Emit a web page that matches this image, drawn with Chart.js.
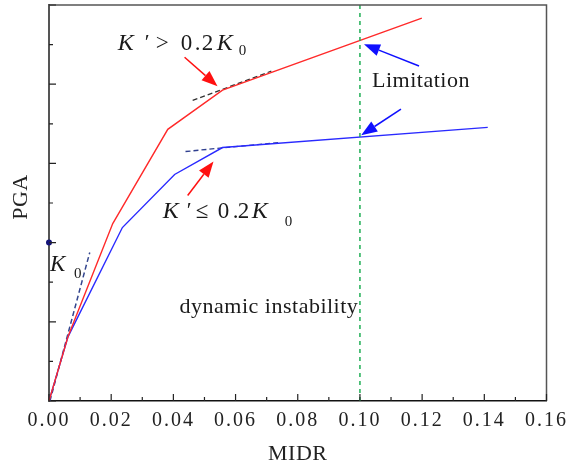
<!DOCTYPE html>
<html>
<head>
<meta charset="utf-8">
<script src="https://cdn.jsdelivr.net/npm/chart.js@4/dist/chart.umd.min.js"></script>
<style>
  html, body { margin: 0; padding: 0; background: #fff; }
  canvas { display: block; }
</style>
</head>
<body>
<canvas id="grafik" width="572" height="468"></canvas>
<script>
// ---------------------------------------------------------------
// Data kurva PGA - MIDR
// ---------------------------------------------------------------
const redX  = [0, 0.0061, 0.0205, 0.0382, 0.0558, 0.1199];
const redY  = [0, 1.62,   4.48,   6.86,   7.85,   9.67];
const blueX = [0, 0.0061, 0.0236, 0.0404, 0.0558, 0.1411];
const blueY = [0, 1.62,   4.38,   5.72,   6.40,   6.91];

// garis singgung putus-putus
const k0X        = [0.0003, 0.0131];
const k0Y        = [0, 3.75];
const redTanX    = [0.0462, 0.0715];
const redTanY    = [7.59, 8.33];
const blueTanX   = [0.0439, 0.0741];
const blueTanY   = [6.30, 6.53];
const limitX     = [0.10, 0.10];
const limitY     = [0, 10];
const dotX       = [0];
const dotY       = [4];

// tick sumbu
const xTickValues  = [0, 0.02, 0.04, 0.06, 0.08, 0.10, 0.12, 0.14, 0.16];
const xTickLabels  = ['0.00', '0.02', '0.04', '0.06', '0.08', '0.10', '0.12', '0.14', '0.16'];
const xMinorTicks  = [0.01, 0.03, 0.05, 0.07, 0.09, 0.11, 0.13, 0.15];
const yMajorTicks  = [0, 2, 4, 6, 8, 10];
const yMinorTicks  = [1, 3, 5, 7, 9];

// panah: [ekorX, ekorY, ujungX, ujungY]
const redArrows  = [[0.0436, 8.68, 0.0542, 7.95], [0.0446, 5.19, 0.0529, 6.05]];
const blueArrows = [[0.1190, 8.46, 0.1013, 9.01], [0.1132, 7.37, 0.1004, 6.71]];

const SERIF = '"Liberation Serif", "DejaVu Serif", serif';

function toPoints(xs, ys) {
    return xs.map((x, i) => ({ x: x, y: ys[i] }));
}

function lineSet(xs, ys, color, width, dash) {
    return {
        data: toPoints(xs, ys),
        showLine: true,
        borderColor: color,
        borderWidth: width,
        borderDash: dash || [],
        pointRadius: 0,
        fill: false
    };
}

// teks anotasi: potongan [teks, dx, dy, miring, ukuran]
const labels = [
    { x: 0.0221, y: 8.86, parts: [['K', 0, 0, true, 24], ['\u2032', 27, -1, false, 22], ['>', 38, 0, false, 23],
        ['0', 63, 0, false, 23], ['.', 77, 0, false, 23], ['2', 84, 0, false, 23], ['K', 99, 0, true, 24], ['0', 121, 5, false, 15]] },
    { x: 0.0366, y: 4.63, parts: [['K', 0, 0, true, 24], ['\u2032', 24, -1, false, 22], ['\u2264', 33, 0, false, 23],
        ['0', 55, 0, false, 23], ['.', 70, 0, false, 23], ['2', 75, 0, false, 23], ['K', 89, 0, true, 24], ['0', 122, 8, false, 15]] },
    { x: 0.0003, y: 3.29, parts: [['K', 0, 0, true, 23], ['0', 24, 7, false, 15]] },
    { x: 0.1039, y: 7.92, parts: [['Limitation', 0, 0, false, 22]] },
    { x: 0.0420, y: 2.23, parts: [['dynamic instability', 0, 0, false, 22]] }
];

function drawArrow(ctx, x1, y1, x2, y2, color) {
    const ang = Math.atan2(y2 - y1, x2 - x1);
    const len = 16, half = 6;
    const bx = x2 - len * Math.cos(ang), by = y2 - len * Math.sin(ang);
    ctx.strokeStyle = color;
    ctx.fillStyle = color;
    ctx.lineWidth = 1.5;
    ctx.beginPath();
    ctx.moveTo(x1, y1);
    ctx.lineTo(bx, by);
    ctx.stroke();
    ctx.beginPath();
    ctx.moveTo(x2, y2);
    ctx.lineTo(bx + half * Math.sin(ang), by - half * Math.cos(ang));
    ctx.lineTo(bx - half * Math.sin(ang), by + half * Math.cos(ang));
    ctx.closePath();
    ctx.fill();
}

const hiasan = {
    id: 'hiasan',
    beforeDraw(chart) {
        chart.ctx.letterSpacing = '2px';
    },
    afterDraw(chart) {
        const ctx = chart.ctx;
        const xs = chart.scales.x, ys = chart.scales.y;
        const a = chart.chartArea;
        ctx.save();
        ctx.letterSpacing = '0px';

        // bingkai atas dan kanan
        ctx.strokeStyle = '#555';
        ctx.lineWidth = 1.5;
        ctx.beginPath();
        ctx.moveTo(a.left, a.top);
        ctx.lineTo(a.right, a.top);
        ctx.lineTo(a.right, a.bottom);
        ctx.stroke();

        // tick ke dalam
        ctx.strokeStyle = '#222';
        ctx.lineWidth = 1.2;
        ctx.beginPath();
        xTickValues.forEach(v => { const p = xs.getPixelForValue(v); ctx.moveTo(p, a.bottom); ctx.lineTo(p, a.bottom - 7); });
        xMinorTicks.forEach(v => { const p = xs.getPixelForValue(v); ctx.moveTo(p, a.bottom); ctx.lineTo(p, a.bottom - 4); });
        yMajorTicks.forEach(v => { const p = ys.getPixelForValue(v); ctx.moveTo(a.left, p); ctx.lineTo(a.left + 7, p); });
        yMinorTicks.forEach(v => { const p = ys.getPixelForValue(v); ctx.moveTo(a.left, p); ctx.lineTo(a.left + 4, p); });
        ctx.stroke();

        // panah
        redArrows.forEach(r => drawArrow(ctx, xs.getPixelForValue(r[0]), ys.getPixelForValue(r[1]),
            xs.getPixelForValue(r[2]), ys.getPixelForValue(r[3]), '#ff1010'));
        blueArrows.forEach(r => drawArrow(ctx, xs.getPixelForValue(r[0]), ys.getPixelForValue(r[1]),
            xs.getPixelForValue(r[2]), ys.getPixelForValue(r[3]), '#1010ff'));

        // teks anotasi
        ctx.fillStyle = '#1a1a1a';
        ctx.textAlign = 'left';
        ctx.textBaseline = 'alphabetic';
        ctx.letterSpacing = '0.5px';
        labels.forEach(l => {
            const px = xs.getPixelForValue(l.x), py = ys.getPixelForValue(l.y);
            l.parts.forEach(p => {
                ctx.font = (p[3] ? 'italic ' : '') + p[4] + 'px ' + SERIF;
                ctx.fillText(p[0], px + p[1], py + p[2]);
            });
        });

        // judul sumbu
        ctx.font = '22px ' + SERIF;
        ctx.fillStyle = '#222';
        ctx.textAlign = 'center';
        ctx.fillText('MIDR', (a.left + a.right) / 2, 460);
        ctx.translate(27, 197);
        ctx.rotate(-Math.PI / 2);
        ctx.fillText('PGA', 0, 0);
        ctx.restore();
    }
};

new Chart(document.getElementById('grafik'), {
    type: 'scatter',
    data: {
        datasets: [
            lineSet(limitX, limitY, '#1fae55', 1.5, [4, 4]),
            lineSet(redX, redY, '#ff2a2a', 1.4),
            lineSet(blueX, blueY, '#2a2aff', 1.4),
            lineSet(k0X, k0Y, '#34468f', 1.5, [5, 3]),
            lineSet(redTanX, redTanY, '#333333', 1.3, [5, 3]),
            lineSet(blueTanX, blueTanY, '#2f3f8f', 1.3, [5, 3]),
            { data: toPoints(dotX, dotY), pointRadius: 3, pointBackgroundColor: '#14147a',
              pointBorderWidth: 0, clip: false }
        ]
    },
    options: {
        responsive: false,
        animation: false,
        layout: { padding: { top: 5, right: 24, left: 0, bottom: 0 } },
        plugins: { legend: { display: false }, tooltip: { enabled: false } },
        scales: {
            x: {
                type: 'linear',
                min: 0,
                max: 0.16,
                afterFit: s => { s.height = 67; },
                afterBuildTicks: s => { s.ticks = xTickValues.map(v => ({ value: v })); },
                ticks: {
                    callback: (v, i) => xTickLabels[i],
                    font: { family: SERIF, size: 20 },
                    color: '#222',
                    padding: 8,
                    maxRotation: 0,
                    autoSkip: false
                },
                grid: { display: false, drawTicks: false },
                border: { display: true, color: '#111', width: 1.5 }
            },
            y: {
                min: 0,
                max: 10,
                afterFit: s => { s.width = 49; },
                ticks: { display: false },
                grid: { display: false, drawTicks: false },
                border: { display: true, color: '#555', width: 2 }
            }
        }
    },
    plugins: [hiasan]
});
</script>
</body>
</html>
